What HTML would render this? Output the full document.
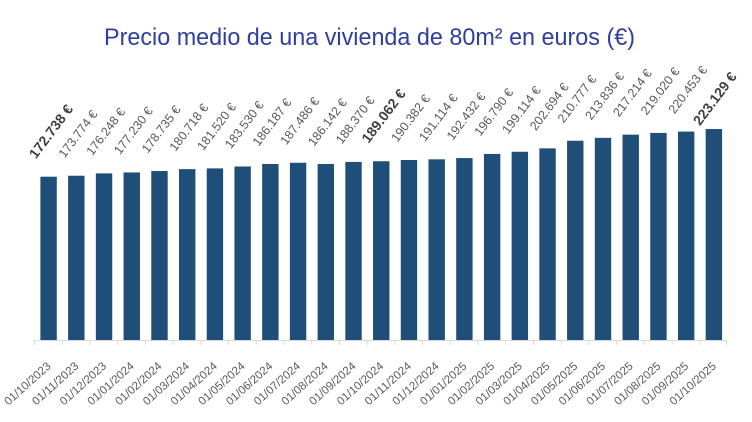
<!DOCTYPE html>
<html><head><meta charset="utf-8"><style>
html,body{margin:0;padding:0;background:#fff;}
svg{display:block;}
.v{font-family:"Liberation Sans",sans-serif;font-size:12.5px;fill:#595959;}
.b{font-family:"Liberation Sans",sans-serif;font-size:14px;font-weight:bold;fill:#404040;}
.d{font-family:"Liberation Sans",sans-serif;font-size:11.5px;fill:#595959;}
</style></head><body>
<svg width="752" height="422" viewBox="0 0 752 422" xmlns="http://www.w3.org/2000/svg">
<rect width="752" height="422" fill="#fff"/>
<text x="104" y="45" font-family="Liberation Sans, sans-serif" font-size="24" fill="#2f3f9f" textLength="531" lengthAdjust="spacingAndGlyphs">Precio medio de una vivienda de 80m² en euros (€)</text>
<g fill="#1f4e79">
<rect x="40.4" y="176.69" width="16.4" height="163.31"/>
<rect x="68.12" y="175.72" width="16.4" height="164.28"/>
<rect x="95.84" y="173.38" width="16.4" height="166.62"/>
<rect x="123.56" y="172.45" width="16.4" height="167.55"/>
<rect x="151.28" y="171.02" width="16.4" height="168.98"/>
<rect x="179" y="169.15" width="16.4" height="170.85"/>
<rect x="206.72" y="168.39" width="16.4" height="171.61"/>
<rect x="234.44" y="166.49" width="16.4" height="173.51"/>
<rect x="262.16" y="163.98" width="16.4" height="176.02"/>
<rect x="289.88" y="162.75" width="16.4" height="177.25"/>
<rect x="317.6" y="164.02" width="16.4" height="175.98"/>
<rect x="345.32" y="161.92" width="16.4" height="178.08"/>
<rect x="373.04" y="161.26" width="16.4" height="178.74"/>
<rect x="400.76" y="160.01" width="16.4" height="179.99"/>
<rect x="428.48" y="159.32" width="16.4" height="180.68"/>
<rect x="456.2" y="158.08" width="16.4" height="181.92"/>
<rect x="483.92" y="153.95" width="16.4" height="186.05"/>
<rect x="511.64" y="151.76" width="16.4" height="188.24"/>
<rect x="539.36" y="148.37" width="16.4" height="191.63"/>
<rect x="567.08" y="140.73" width="16.4" height="199.27"/>
<rect x="594.8" y="137.84" width="16.4" height="202.16"/>
<rect x="622.52" y="134.65" width="16.4" height="205.35"/>
<rect x="650.24" y="132.94" width="16.4" height="207.06"/>
<rect x="677.96" y="131.58" width="16.4" height="208.42"/>
<rect x="705.68" y="129.05" width="16.4" height="210.95"/>
</g>
<g stroke="#d9d9d9" stroke-width="1" fill="none">
<line x1="34" y1="340.5" x2="727" y2="340.5"/>
<path d="M34.5 340v5M62.2 340v5M89.9 340v5M117.7 340v5M145.4 340v5M173.1 340v5M200.8 340v5M228.5 340v5M256.3 340v5M284 340v5M311.7 340v5M339.4 340v5M367.1 340v5M394.9 340v5M422.6 340v5M450.3 340v5M478 340v5M505.7 340v5M533.5 340v5M561.2 340v5M588.9 340v5M616.6 340v5M644.3 340v5M672.1 340v5M699.8 340v5M726.5 340v5"/>
</g>
<g text-anchor="middle">
<text class="b" transform="translate(54.8,134.29) rotate(-53)" textLength="63" lengthAdjust="spacingAndGlyphs">172.738 €</text>
<text class="v" transform="translate(81.32,136.42) rotate(-53)" textLength="55.5" lengthAdjust="spacingAndGlyphs">173.774 €</text>
<text class="v" transform="translate(109.04,134.08) rotate(-53)" textLength="55.5" lengthAdjust="spacingAndGlyphs">176.248 €</text>
<text class="v" transform="translate(136.76,133.15) rotate(-53)" textLength="55.5" lengthAdjust="spacingAndGlyphs">177.230 €</text>
<text class="v" transform="translate(164.48,131.72) rotate(-53)" textLength="55.5" lengthAdjust="spacingAndGlyphs">178.735 €</text>
<text class="v" transform="translate(192.2,129.85) rotate(-53)" textLength="55.5" lengthAdjust="spacingAndGlyphs">180.718 €</text>
<text class="v" transform="translate(219.92,129.09) rotate(-53)" textLength="55.5" lengthAdjust="spacingAndGlyphs">181.520 €</text>
<text class="v" transform="translate(247.64,127.19) rotate(-53)" textLength="55.5" lengthAdjust="spacingAndGlyphs">183.530 €</text>
<text class="v" transform="translate(275.36,124.68) rotate(-53)" textLength="55.5" lengthAdjust="spacingAndGlyphs">186.187 €</text>
<text class="v" transform="translate(303.08,123.45) rotate(-53)" textLength="55.5" lengthAdjust="spacingAndGlyphs">187.486 €</text>
<text class="v" transform="translate(330.8,124.72) rotate(-53)" textLength="55.5" lengthAdjust="spacingAndGlyphs">186.142 €</text>
<text class="v" transform="translate(358.52,122.62) rotate(-53)" textLength="55.5" lengthAdjust="spacingAndGlyphs">188.370 €</text>
<text class="b" transform="translate(387.44,118.86) rotate(-53)" textLength="63" lengthAdjust="spacingAndGlyphs">189.062 €</text>
<text class="v" transform="translate(413.96,120.71) rotate(-53)" textLength="55.5" lengthAdjust="spacingAndGlyphs">190.382 €</text>
<text class="v" transform="translate(441.68,120.02) rotate(-53)" textLength="55.5" lengthAdjust="spacingAndGlyphs">191.114 €</text>
<text class="v" transform="translate(469.4,118.78) rotate(-53)" textLength="55.5" lengthAdjust="spacingAndGlyphs">192.432 €</text>
<text class="v" transform="translate(497.12,114.65) rotate(-53)" textLength="55.5" lengthAdjust="spacingAndGlyphs">196.790 €</text>
<text class="v" transform="translate(524.84,112.46) rotate(-53)" textLength="55.5" lengthAdjust="spacingAndGlyphs">199.114 €</text>
<text class="v" transform="translate(552.56,109.07) rotate(-53)" textLength="55.5" lengthAdjust="spacingAndGlyphs">202.694 €</text>
<text class="v" transform="translate(580.28,101.43) rotate(-53)" textLength="55.5" lengthAdjust="spacingAndGlyphs">210.777 €</text>
<text class="v" transform="translate(608,98.54) rotate(-53)" textLength="55.5" lengthAdjust="spacingAndGlyphs">213.836 €</text>
<text class="v" transform="translate(635.72,95.35) rotate(-53)" textLength="55.5" lengthAdjust="spacingAndGlyphs">217.214 €</text>
<text class="v" transform="translate(663.44,93.64) rotate(-53)" textLength="55.5" lengthAdjust="spacingAndGlyphs">219.020 €</text>
<text class="v" transform="translate(691.16,92.28) rotate(-53)" textLength="55.5" lengthAdjust="spacingAndGlyphs">220.453 €</text>
<text class="b" transform="translate(718.68,101.45) rotate(-53)" textLength="62" lengthAdjust="spacingAndGlyphs">223.129 €</text>
</g>
<g text-anchor="end">
<text class="d" transform="translate(51.6,367) rotate(-42)" textLength="58" lengthAdjust="spacingAndGlyphs">01/10/2023</text>
<text class="d" transform="translate(79.32,367) rotate(-42)" textLength="58" lengthAdjust="spacingAndGlyphs">01/11/2023</text>
<text class="d" transform="translate(107.04,367) rotate(-42)" textLength="58" lengthAdjust="spacingAndGlyphs">01/12/2023</text>
<text class="d" transform="translate(134.76,367) rotate(-42)" textLength="58" lengthAdjust="spacingAndGlyphs">01/01/2024</text>
<text class="d" transform="translate(162.48,367) rotate(-42)" textLength="58" lengthAdjust="spacingAndGlyphs">01/02/2024</text>
<text class="d" transform="translate(190.2,367) rotate(-42)" textLength="58" lengthAdjust="spacingAndGlyphs">01/03/2024</text>
<text class="d" transform="translate(217.92,367) rotate(-42)" textLength="58" lengthAdjust="spacingAndGlyphs">01/04/2024</text>
<text class="d" transform="translate(245.64,367) rotate(-42)" textLength="58" lengthAdjust="spacingAndGlyphs">01/05/2024</text>
<text class="d" transform="translate(273.36,367) rotate(-42)" textLength="58" lengthAdjust="spacingAndGlyphs">01/06/2024</text>
<text class="d" transform="translate(301.08,367) rotate(-42)" textLength="58" lengthAdjust="spacingAndGlyphs">01/07/2024</text>
<text class="d" transform="translate(328.8,367) rotate(-42)" textLength="58" lengthAdjust="spacingAndGlyphs">01/08/2024</text>
<text class="d" transform="translate(356.52,367) rotate(-42)" textLength="58" lengthAdjust="spacingAndGlyphs">01/09/2024</text>
<text class="d" transform="translate(384.24,367) rotate(-42)" textLength="58" lengthAdjust="spacingAndGlyphs">01/10/2024</text>
<text class="d" transform="translate(411.96,367) rotate(-42)" textLength="58" lengthAdjust="spacingAndGlyphs">01/11/2024</text>
<text class="d" transform="translate(439.68,367) rotate(-42)" textLength="58" lengthAdjust="spacingAndGlyphs">01/12/2024</text>
<text class="d" transform="translate(467.4,367) rotate(-42)" textLength="58" lengthAdjust="spacingAndGlyphs">01/01/2025</text>
<text class="d" transform="translate(495.12,367) rotate(-42)" textLength="58" lengthAdjust="spacingAndGlyphs">01/02/2025</text>
<text class="d" transform="translate(522.84,367) rotate(-42)" textLength="58" lengthAdjust="spacingAndGlyphs">01/03/2025</text>
<text class="d" transform="translate(550.56,367) rotate(-42)" textLength="58" lengthAdjust="spacingAndGlyphs">01/04/2025</text>
<text class="d" transform="translate(578.28,367) rotate(-42)" textLength="58" lengthAdjust="spacingAndGlyphs">01/05/2025</text>
<text class="d" transform="translate(606,367) rotate(-42)" textLength="58" lengthAdjust="spacingAndGlyphs">01/06/2025</text>
<text class="d" transform="translate(633.72,367) rotate(-42)" textLength="58" lengthAdjust="spacingAndGlyphs">01/07/2025</text>
<text class="d" transform="translate(661.44,367) rotate(-42)" textLength="58" lengthAdjust="spacingAndGlyphs">01/08/2025</text>
<text class="d" transform="translate(689.16,367) rotate(-42)" textLength="58" lengthAdjust="spacingAndGlyphs">01/09/2025</text>
<text class="d" transform="translate(716.88,367) rotate(-42)" textLength="58" lengthAdjust="spacingAndGlyphs">01/10/2025</text>
</g>
</svg>
</body></html>
